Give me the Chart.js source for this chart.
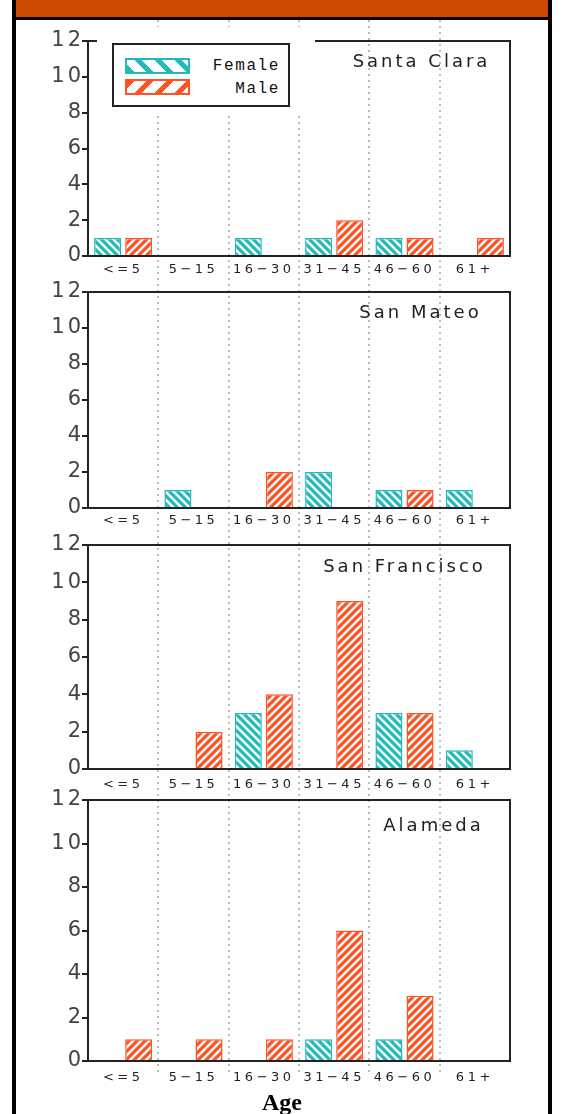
<!DOCTYPE html>
<html>
<head>
<meta charset="utf-8">
<script src="https://cdn.jsdelivr.net/npm/chart.js@4.4.1/dist/chart.umd.min.js"></script>
<style>
  html, body { margin: 0; padding: 0; background: #fff; }
  body { width: 561px; height: 1114px; position: relative; overflow: hidden; }
  #header { position: absolute; left: 12px; top: 0; width: 540px; height: 17px; background: #cf4a00; border-bottom: 3px solid #000; }
  .side { position: absolute; top: 0; width: 4px; height: 1114px; background: #000; }
  canvas { position: absolute; left: 16px; }
  #legend { position: absolute; left: 97px; top: 27px; width: 218px; height: 85px; background: #fff; z-index: 5; }
  #legend .frame { position: absolute; left: 15px; top: 16px; width: 174px; height: 60px; border: 2px solid #222; }
  #legend .swatch { position: absolute; left: 11px; width: 61px; height: 12px; }
  #legend .female { top: 13px; border: 2px solid #21b9b9;
    background: repeating-linear-gradient(45deg, #21b9b9 0 5px, #fff 5px 14px); }
  #legend .male { top: 34px; border: 2px solid #ff5122;
    background: repeating-linear-gradient(135deg, #ff5122 0 5px, #fff 5px 14px); }
  #legend .lbl { position: absolute; right: 8px; font: 16px "Liberation Mono", monospace; letter-spacing: 1.6px; color: #111; line-height: 16px; }
  #axisTitle { position: absolute; left: 14px; width: 536px; top: 1090px; text-align: center;
    font: bold 24px "Liberation Serif", serif; line-height: 24px; color: #000; }
</style>
</head>
<body>
<div id="header"></div>
<div class="side" style="left:12px"></div>
<div class="side" style="left:548px"></div>

<canvas id="panel0"></canvas>
<canvas id="panel1"></canvas>
<canvas id="panel2"></canvas>
<canvas id="panel3"></canvas>

<div id="legend">
  <div class="frame">
    <div class="swatch female"></div>
    <div class="lbl" style="top:13px">Female</div>
    <div class="swatch male"></div>
    <div class="lbl" style="top:36px">Male</div>
  </div>
</div>
<div id="axisTitle">Age</div>

<script>
// Age groups on the x axis
const ageGroups = ['<=5', '5\u221215', '16\u221230', '31\u221245', '46\u221260', '61+'];
const countyNames = ['Santa Clara', 'San Mateo', 'San Francisco', 'Alameda'];
const seriesNames = ['Female', 'Male'];
const yMin = 0, yMax = 12, yStep = 2;

// Case counts per age group
const santaClaraFemale   = [1, 0, 1, 1, 1, 0];
const santaClaraMale     = [1, 0, 0, 2, 1, 1];
const sanMateoFemale     = [0, 1, 0, 2, 1, 1];
const sanMateoMale       = [0, 0, 2, 0, 1, 0];
const sanFranciscoFemale = [0, 0, 3, 0, 3, 1];
const sanFranciscoMale   = [0, 2, 4, 9, 3, 0];
const alamedaFemale      = [0, 0, 0, 1, 1, 0];
const alamedaMale        = [1, 1, 1, 6, 3, 0];

const countyFemale = [santaClaraFemale, sanMateoFemale, sanFranciscoFemale, alamedaFemale];
const countyMale   = [santaClaraMale, sanMateoMale, sanFranciscoMale, alamedaMale];

// Page geometry of each panel: dotted band, plot top/bottom, label gap, title placement
const panelLayout = [
  { band: [20, 284],   top: 41,  bottom: 256,  gap: 7,  titleX: 420, titleY: 62 },
  { band: [284, 536],  top: 292, bottom: 508,  gap: 6,  titleX: 419, titleY: 313 },
  { band: [536, 788],  top: 545, bottom: 769,  gap: 9,  titleX: 403, titleY: 567 },
  { band: [788, 1076], top: 800, bottom: 1061, gap: 10, titleX: 432, titleY: 826 }
];

const TEAL = '#21b9b9';
const ORANGE = '#ff5122';
const CANVAS_LEFT = 16, CANVAS_W = 532, PLOT_LEFT = 88, PLOT_RIGHT = 510, OVERHANG = 14;

function hatch(color, forward) {
  const s = 8;
  const c = document.createElement('canvas');
  c.width = s; c.height = s;
  const g = c.getContext('2d');
  g.fillStyle = color;
  g.fillRect(0, 0, s, s);
  g.strokeStyle = '#ffffff';
  g.lineWidth = 2.4;
  g.beginPath();
  if (forward) {
    g.moveTo(-1, s + 1); g.lineTo(s + 1, -1);
    g.moveTo(-1, 1);     g.lineTo(1, -1);
    g.moveTo(s - 1, s + 1); g.lineTo(s + 1, s - 1);
  } else {
    g.moveTo(-1, -1);    g.lineTo(s + 1, s + 1);
    g.moveTo(s - 1, -1); g.lineTo(s + 1, 1);
    g.moveTo(-1, s - 1); g.lineTo(1, s + 1);
  }
  g.stroke();
  return g.createPattern(c, 'repeat');
}
const femaleFill = hatch(TEAL, false);
const maleFill = hatch(ORANGE, true);

// Dotted separators, plot frame, letter spacing and the county name
const panelDecor = {
  id: 'panelDecor',
  beforeDraw(chart, args, opts) {
    const ctx = chart.ctx;
    const xs = chart.scales.x;
    ctx.save();
    ctx.strokeStyle = '#bcbcbc';
    ctx.lineWidth = 2;
    ctx.setLineDash([2, 4]);
    for (let i = 1; i < ageGroups.length; i++) {
      const px = Math.round((xs.getPixelForValue(i - 1) + xs.getPixelForValue(i)) / 2);
      ctx.beginPath();
      ctx.moveTo(px, opts.y0);
      ctx.lineTo(px, opts.y1);
      ctx.stroke();
    }
    ctx.restore();
    ctx.letterSpacing = '3.5px';
  },
  afterDatasetsDraw(chart) {
    const { ctx, chartArea: a } = chart;
    ctx.save();
    ctx.strokeStyle = '#222';
    ctx.lineWidth = 2;
    ctx.beginPath();
    ctx.moveTo(a.left, a.top);
    ctx.lineTo(a.right, a.top);
    ctx.lineTo(a.right, a.bottom);
    ctx.stroke();
    ctx.restore();
    ctx.letterSpacing = '3px';
  },
  afterDraw(chart, args, opts) {
    const ctx = chart.ctx;
    ctx.save();
    ctx.letterSpacing = '3px';
    ctx.font = '18px "DejaVu Sans"';
    ctx.fillStyle = '#222';
    ctx.textAlign = 'center';
    ctx.textBaseline = 'middle';
    ctx.fillText(opts.name, opts.tx + 1.5, opts.ty);
    ctx.restore();
    ctx.letterSpacing = '0px';
  }
};

countyNames.forEach((name, k) => {
  const L = panelLayout[k];
  const canvasTop = L.band[0] - OVERHANG;
  const canvasH = L.band[1] - L.band[0] + 2 * OVERHANG;
  const cv = document.getElementById('panel' + k);
  cv.width = CANVAS_W; cv.height = canvasH;
  cv.style.top = canvasTop + 'px';
  cv.style.width = CANVAS_W + 'px'; cv.style.height = canvasH + 'px';

  new Chart(cv, {
    type: 'bar',
    data: {
      labels: ageGroups,
      datasets: [
        { label: seriesNames[0], data: countyFemale[k].map(v => v === 0 ? null : v),
          backgroundColor: femaleFill, borderColor: TEAL, borderWidth: 1.5 },
        { label: seriesNames[1], data: countyMale[k].map(v => v === 0 ? null : v),
          backgroundColor: maleFill, borderColor: ORANGE, borderWidth: 1.5 }
      ]
    },
    options: {
      responsive: false,
      animation: false,
      devicePixelRatio: 1,
      categoryPercentage: 0.884,
      barPercentage: 0.87,
      layout: { padding: { top: L.top - canvasTop, left: 0, right: CANVAS_LEFT + CANVAS_W - PLOT_RIGHT, bottom: 0 } },
      plugins: {
        legend: { display: false },
        title: { display: false },
        tooltip: { enabled: false },
        panelDecor: { y0: OVERHANG, y1: canvasH - OVERHANG, name: name,
                      tx: L.titleX - CANVAS_LEFT, ty: L.titleY - canvasTop }
      },
      scales: {
        x: {
          offset: true,
          grid: { display: false, drawTicks: false },
          border: { color: '#222', width: 2 },
          ticks: { autoSkip: false, maxRotation: 0, minRotation: 0, padding: L.gap - 1,
                   color: '#222', font: { family: 'DejaVu Sans', size: 13 } },
          afterFit(s) { s.height = canvasTop + canvasH - L.bottom; }
        },
        y: {
          min: yMin, max: yMax,
          grid: { drawOnChartArea: false, drawTicks: true, tickLength: 6, color: '#222', lineWidth: 2 },
          border: { color: '#222', width: 2 },
          ticks: { stepSize: yStep, padding: -2, z: 1, color: '#444',
                   font: { family: 'DejaVu Sans', size: 21 } },
          afterFit(s) { s.width = PLOT_LEFT - CANVAS_LEFT; }
        }
      }
    },
    plugins: [panelDecor]
  });
});
</script>
</body>
</html>
